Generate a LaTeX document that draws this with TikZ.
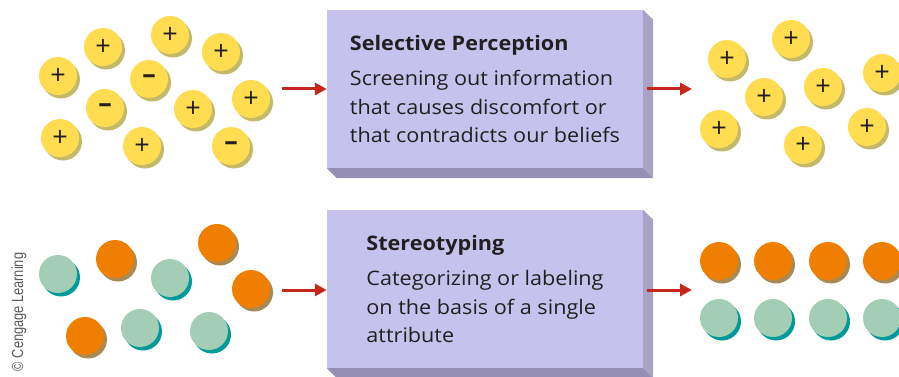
\documentclass[tikz,border=0pt]{standalone}
\usepackage{fontspec}
\setmainfont{Open Sans}
\newfontfamily\slabfont[FakeStretch=1.08]{Open Sans}
\newfontfamily\credfont[FakeStretch=0.8]{Liberation Sans}
\usepackage{xcolor}
\usepackage{tikz}
\usetikzlibrary{arrows.meta, calc}

\definecolor{yelfill}{HTML}{FFDC50}
\definecolor{yelshade}{HTML}{C4B96A}
\definecolor{orgfill}{HTML}{F07F00}
\definecolor{orgshade}{HTML}{A98A55}
\definecolor{grnfill}{HTML}{A3CDB4}
\definecolor{grnshade}{HTML}{009A9A}
\definecolor{boxfront}{HTML}{C5C3EE}
\definecolor{boxside}{HTML}{A8A2C5}
\definecolor{boxbottom}{HTML}{958FB5}
\definecolor{arrred}{HTML}{C4271C}
\definecolor{txtdark}{HTML}{231F20}
\definecolor{credgray}{HTML}{5A5A5A}

\begin{document}
\begin{tikzpicture}[
      x=1pt, y=-1pt,
      tok/.style = {circle, inner sep=0pt, minimum size=38pt,
                    text=txtdark, font=\fontsize{27}{27}\selectfont},
      ytok/.style = {tok, fill=yelfill,
                     preaction={fill=yelshade, transform canvas={xshift=3pt, yshift=-3.5pt}}},
      otok/.style = {tok, fill=orgfill,
                     preaction={fill=orgshade, transform canvas={xshift=3pt, yshift=-3.5pt}}},
      gtok/.style = {tok, fill=grnfill,
                     preaction={fill=grnshade, transform canvas={xshift=3pt, yshift=-3.5pt}}},
      slab/.style = {
        rectangle, minimum width=316pt, minimum height=158pt,
        inner sep=0pt, align=left, fill=boxfront, text=txtdark,
        font=\slabfont\fontsize{20}{28.3}\selectfont
      },
      arr/.style = {-{Triangle[length=12pt, width=12pt]},
                    line width=3pt, arrred},
      credit/.style = {rotate=90, text=credgray,
                       font=\credfont\fontsize{16}{17}\selectfont},
    ]
    \useasboundingbox (0,0) rectangle (899,377);

    % mixed charges before
    \node[ytok] (y1) at (58,76) {+};
    \node[ytok] (y2) at (103,47) {+};
    \node[ytok] (y3) at (170,35) {+};
    \node[ytok] (y4) at (221,52) {+};
    \node[ytok] (y5) at (149,79) {\bfseries –};
    \node[ytok] (y6) at (105,108) {\bfseries –};
    \node[ytok] (y7) at (193,109) {+};
    \node[ytok] (y8) at (251,99) {+};
    \node[ytok] (y9) at (60,138) {+};
    \node[ytok] (y10) at (142,146) {+};
    \node[ytok] (y11) at (231,146) {\bfseries –};

    % screened charges after
    \node[ytok] (ys1) at (727,59) {+};
    \node[ytok] (ys2) at (791,39) {+};
    \node[ytok] (ys3) at (764,97) {+};
    \node[ytok] (ys4) at (823,87) {+};
    \node[ytok] (ys5) at (882,73) {+};
    \node[ytok] (ys6) at (719,129) {+};
    \node[ytok] (ys7) at (803,145) {+};
    \node[ytok] (ys8) at (867,127) {+};

    % mixed people before
    \node[gtok] (m1) at (58,274) {};
    \node[otok] (m2) at (115,259) {};
    \node[gtok] (m3) at (170,278) {};
    \node[otok] (m4) at (217,243) {};
    \node[otok] (m5) at (251,289) {};
    \node[otok] (m6) at (85,336) {};
    \node[gtok] (m7) at (140,328) {};
    \node[gtok] (m8) at (209,331) {};

    % sorted people after
    \node[otok] (s1) at (719,261) {};
    \node[otok] (s2) at (773,261) {};
    \node[otok] (s3) at (828,261) {};
    \node[otok] (s4) at (882,261) {};
    \node[gtok] (s5) at (719,318) {};
    \node[gtok] (s6) at (773,318) {};
    \node[gtok] (s7) at (828,318) {};
    \node[gtok] (s8) at (882,318) {};

    % process slabs
    \node[slab] (sel) at (485,89)
      {{\bfseries Selective Perception}\\[6.7pt]
       Screening out information\\
       that causes discomfort or\\
       that contradicts our beliefs};
    \fill[boxside] (sel.north east) -- ++(10,10)
      -- ($(sel.south east)+(10,10)$) -- (sel.south east) -- cycle;
    \fill[boxbottom] (sel.south west) -- (sel.south east)
      -- ++(10,10) -- ($(sel.south west)+(10,10)$) -- cycle;

    \node[slab] (ster) at (485,289)
      {{\bfseries Stereotyping}\\[6.7pt]
       Categorizing or labeling\\
       on the basis of a single\\
       attribute};
    \fill[boxside] (ster.north east) -- ++(10,10)
      -- ($(ster.south east)+(10,10)$) -- (ster.south east) -- cycle;
    \fill[boxbottom] (ster.south west) -- (ster.south east)
      -- ++(10,10) -- ($(ster.south west)+(10,10)$) -- cycle;

    % arrows
    \coordinate (selin) at (282,89);
    \coordinate (selout) at (692,89);
    \coordinate (sterin) at (282,290);
    \coordinate (sterout) at (692,290);
    \draw[arr] (selin) -- (sel.west);
    \draw[arr, shorten <=4pt] (sel.east) -- (selout);
    \draw[arr] (sterin) -- (sterin -| ster.west);
    \draw[arr, shorten <=4pt] (ster.east |- sterout) -- (sterout);

    \node[credit] (cred) at (19,312) {© Cengage Learning};
\end{tikzpicture}
\end{document}
